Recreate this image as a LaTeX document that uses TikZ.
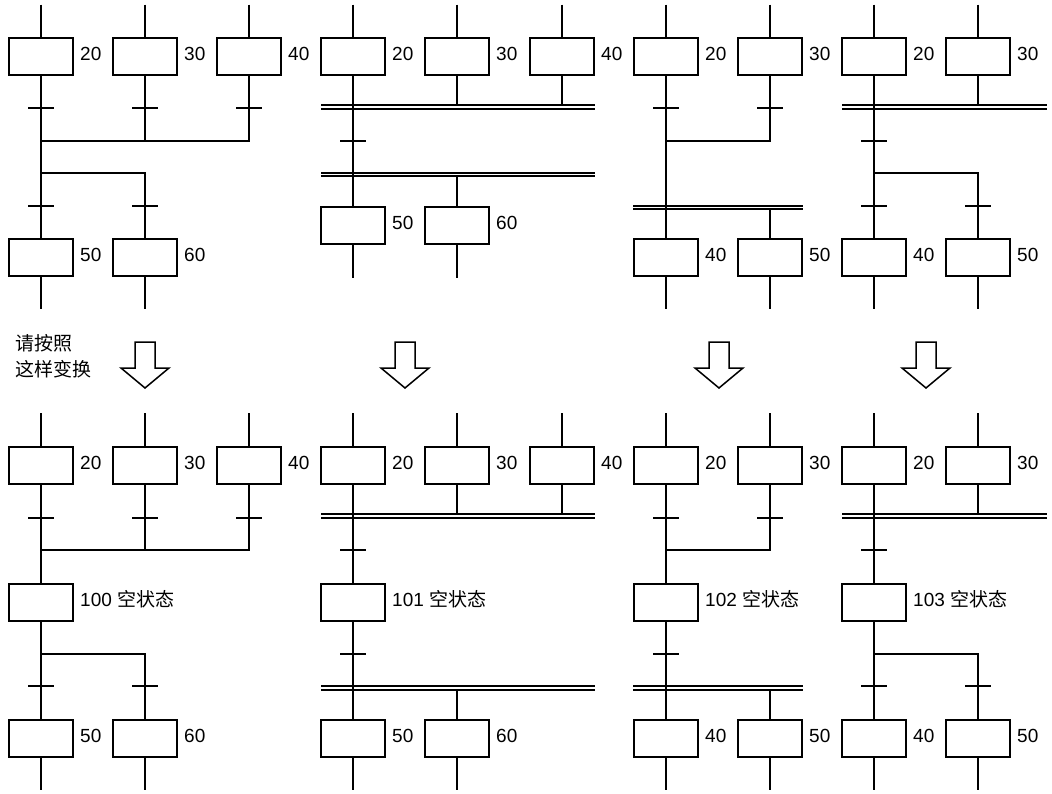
\documentclass[tikz,border=0pt]{standalone}
\usepackage{fontspec}
\setmainfont{Liberation Sans}
\newfontfamily\cjk{Noto Sans CJK SC}
\usetikzlibrary{positioning}

\begin{document}
\begin{tikzpicture}[x=1pt, y=-1pt,
  wire/.style={line width=2pt},
  stepbox/.style={draw, line width=2pt, minimum width=64pt, minimum height=37pt, inner sep=0pt},
  num/.style={font=\fontsize{19}{22}\selectfont, inner sep=0pt, yshift=2.5pt},
  trans/.style={minimum width=26pt, minimum height=0pt, inner sep=0pt, outer sep=0pt},
  sync/.style={double, line width=1.9pt, double distance=1.7pt},
  hollow/.style={line width=1.5pt, line join=miter}]
  \useasboundingbox (0,0) rectangle (1052,793);
  % steps with a link coming in from above
  \foreach \n/\x/\y/\lab in {a20/41/56.5/20, a30/145/56.5/30, a40/249/56.5/40,
      b20/353/56.5/20, b30/457/56.5/30, b40/562/56.5/40,
      c20/666/56.5/20, c30/770/56.5/30, d20/874/56.5/20, d30/978/56.5/30,
      e20/41/465/20, e30/145/465/30, e40/249/465/40,
      f20/353/465/20, f30/457/465/30, f40/562/465/40,
      g20/666/465/20, g30/770/465/30, h20/874/465/20, h30/978/465/30} {
    \node[stepbox] (\n) at (\x,\y) {};
    \node[num, right=6pt of \n] (l\n) {\lab};
    \coordinate (i\n) at (\x,\y-52);
    \draw[wire] (i\n) -- (\n);
  }
  % steps with a link going out below
  \foreach \n/\x/\y/\lab in {a50/41/257/50, a60/145/257/60,
      b50/353/225.5/50, b60/457/225.5/60, c40/666/257/40, c50/770/257/50,
      d40/874/257/40, d50/978/257/50,
      e50/41/738/50, e60/145/738/60, f50/353/738/50, f60/457/738/60,
      g40/666/738/40, g50/770/738/50, h40/874/738/40, h50/978/738/50} {
    \node[stepbox] (\n) at (\x,\y) {};
    \node[num, right=6pt of \n] (l\n) {\lab};
    \coordinate (o\n) at (\x,\y+52);
    \draw[wire] (\n) -- (o\n);
  }
  % dummy steps
  \foreach \n/\x/\lab in {e100/41/100, f101/353/101, g102/666/102, h103/874/103} {
    \node[stepbox] (\n) at (\x,602) {};
    \node[num, right=6pt of \n] (l\n) {\lab\ {\cjk 空状态}};
  }
  % transitions
  \foreach \n/\x/\y in {ta20/41/108, ta30/145/108, ta40/249/108, ta50/41/206, ta60/145/206,
      tb/353/141, tc20/666/108, tc30/770/108, td/874/141, td40/874/206, td50/978/206,
      te20/41/518, te30/145/518, te40/249/518, te50/41/686, te60/145/686,
      tf1/353/550, tf2/353/654, tg20/666/518, tg30/770/518, tg2/666/654,
      th/874/550, th40/874/686, th50/978/686} {
    \node[trans] (\n) at (\x,\y) {};
    \draw[wire] (\n.west) -- (\n.east);
  }

  % parallel bars: links that end on a bar go under it
  \coordinate (sb1l) at (321,107);   \coordinate (sb1r) at (595,107);
  \coordinate (sb2l) at (321,174.5); \coordinate (sb2r) at (595,174.5);
  \coordinate (sc1l) at (633,207.5); \coordinate (sc1r) at (803,207.5);
  \coordinate (sd1l) at (842,107);   \coordinate (sd1r) at (1047,107);
  \coordinate (sf1l) at (321,516);   \coordinate (sf1r) at (595,516);
  \coordinate (sf2l) at (321,688);   \coordinate (sf2r) at (595,688);
  \coordinate (sg1l) at (633,688);   \coordinate (sg1r) at (803,688);
  \coordinate (sh1l) at (842,516);   \coordinate (sh1r) at (1047,516);
  \draw[wire] (b30) -- (b30 |- sb1l);
  \draw[wire] (b40) -- (b40 |- sb1l);
  \draw[wire] (b60) -- (b60 |- sb2l);
  \draw[wire] (c50) -- (c50 |- sc1l);
  \draw[wire] (d30) -- (d30 |- sd1l);
  \draw[wire] (f30) -- (f30 |- sf1l);
  \draw[wire] (f40) -- (f40 |- sf1l);
  \draw[wire] (f60) -- (f60 |- sf2l);
  \draw[wire] (g50) -- (g50 |- sg1l);
  \draw[wire] (h30) -- (h30 |- sh1l);
  \draw[sync] (sb1l) -- (sb1r);
  \draw[sync] (sb2l) -- (sb2r);
  \draw[sync] (sc1l) -- (sc1r);
  \draw[sync] (sd1l) -- (sd1r);
  \draw[sync] (sf1l) -- (sf1r);
  \draw[sync] (sf2l) -- (sf2r);
  \draw[sync] (sg1l) -- (sg1r);
  \draw[sync] (sh1l) -- (sh1r);

  % chart a
  \coordinate (ja1) at (41,141);
  \coordinate (ja2) at (41,173);
  \draw[wire] (a20) -- (a50);
  \draw[wire] (a30) -- (a30 |- ja1);
  \draw[wire] (a40) |- (ja1);
  \draw[wire] (ja2) -| (a60);
  % chart b
  \draw[wire] (b20) -- (b50);
  % chart c
  \coordinate (jc) at (666,141);
  \draw[wire] (c20) -- (c40);
  \draw[wire] (c30) |- (jc);
  % chart d
  \coordinate (jd) at (874,173);
  \draw[wire] (d20) -- (d40);
  \draw[wire] (jd) -| (d50);

  % hint and arrows
  \node[font=\cjk\fontsize{19}{26.5}\selectfont, align=left, anchor=west, inner sep=0pt]
    (hint) at (15,356) {请按照\\这样变换};
  \foreach \x in {145,405,719,926}
    \draw[hollow] (\x-10,342) -- (\x+10,342) -- (\x+10,368) -- (\x+24,368)
      -- (\x,388) -- (\x-24,368) -- (\x-10,368) -- cycle;

  % chart e
  \coordinate (je1) at (41,550);
  \coordinate (je2) at (41,654);
  \draw[wire] (e20) -- (e100);
  \draw[wire] (e30) -- (e30 |- je1);
  \draw[wire] (e40) |- (je1);
  \draw[wire] (e100) -- (e50);
  \draw[wire] (je2) -| (e60);
  % chart f
  \draw[wire] (f20) -- (f101);
  \draw[wire] (f101) -- (f50);
  % chart g
  \coordinate (jg) at (666,550);
  \draw[wire] (g20) -- (g102);
  \draw[wire] (g30) |- (jg);
  \draw[wire] (g102) -- (g40);
  % chart h
  \coordinate (jh) at (874,654);
  \draw[wire] (h20) -- (h103);
  \draw[wire] (h103) -- (h40);
  \draw[wire] (jh) -| (h50);
\end{tikzpicture}
\end{document}
